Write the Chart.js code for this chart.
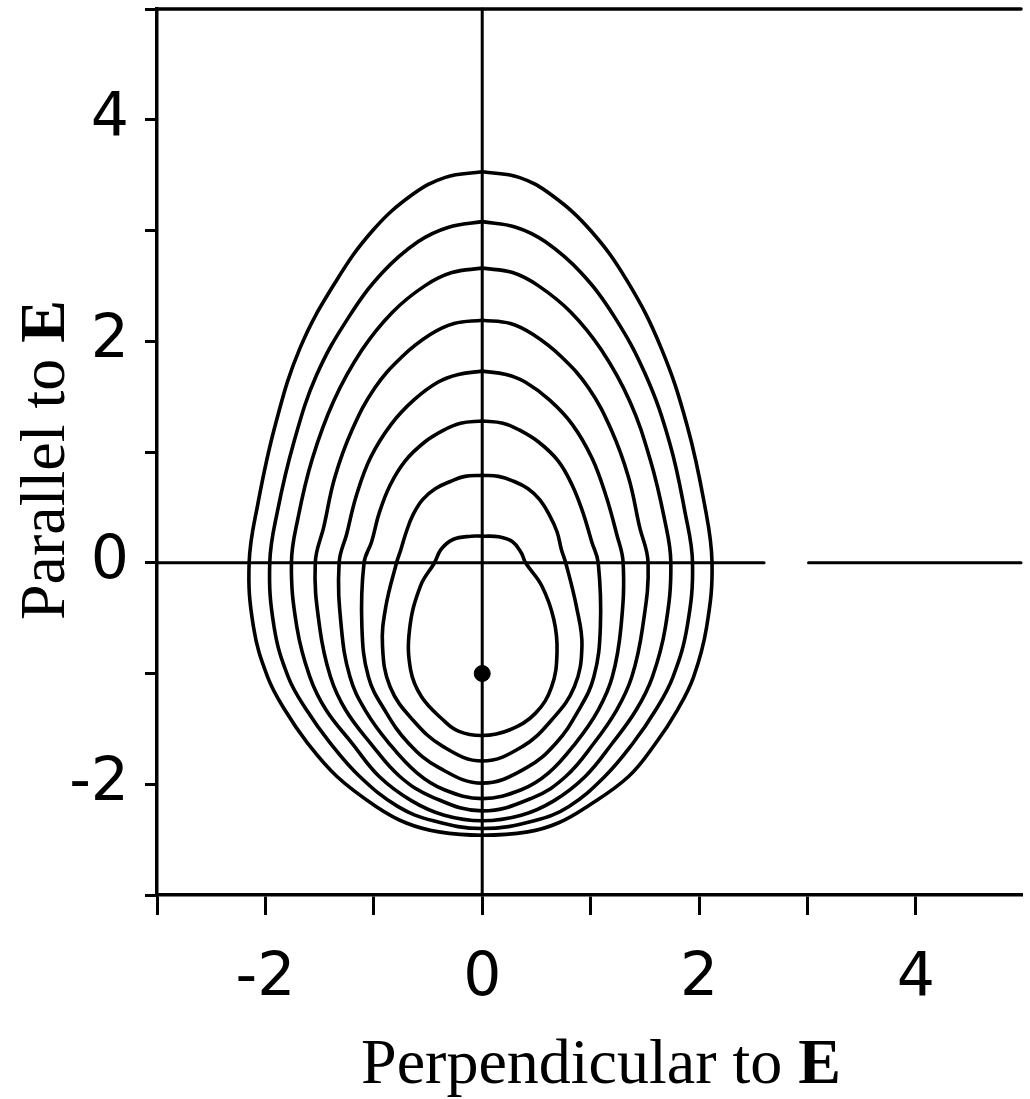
<!DOCTYPE html>
<html>
<head>
<meta charset="utf-8">
<title>Contours parallel / perpendicular to E</title>
<script src="https://cdn.jsdelivr.net/npm/chart.js@4.4.1/dist/chart.umd.min.js"></script>
<style>
  html, body { margin: 0; padding: 0; background: #fff; }
  #wrap { width: 1030px; height: 1099px; }
</style>
</head>
<body>
<div id="wrap"><canvas id="c" width="1030" height="1099"></canvas></div>
<script>
// ── axes ──
var X_TICKS = [-3, -2, -1, 0, 1, 2, 3, 4];
var Y_TICKS = [-3, -2, -1, 0, 1, 2, 3, 4, 5];
var LABELED = [-2, 0, 2, 4];
var X_TITLE = "Perpendicular to ", X_TITLE_BOLD = "E";
var Y_TITLE = "Parallel to ", Y_TITLE_BOLD = "E";

// ── contours, outermost (C1) to innermost (C8) ──
// each one goes clockwise from its top point and closes on it again
var C1_X = [0, 0.34, 0.64, 1.00, 1.34, 1.65, 1.89, 2.05, 2.12, 2.07, 1.95, 1.80, 1.60, 1.35, 0.97, 0.70, 0.42, 0, -0.40, -0.70, -0.98, -1.34, -1.61, -1.82, -1.98, -2.11, -2.15, -2.07, -1.91, -1.68, -1.35, -1.01, -0.65, -0.34, 0];
var C1_Y = [3.53, 3.48, 3.32, 3.00, 2.54, 1.94, 1.24, 0.53, 0, -0.58, -1.03, -1.33, -1.63, -1.93, -2.20, -2.35, -2.43, -2.46, -2.43, -2.35, -2.20, -1.93, -1.63, -1.33, -1.03, -0.58, 0, 0.53, 1.24, 1.94, 2.54, 3.00, 3.32, 3.48, 3.53];

var C2_X = [0, 0.31, 0.58, 0.91, 1.22, 1.51, 1.73, 1.87, 1.94, 1.89, 1.76, 1.60, 1.39, 1.13, 0.80, 0.48, 0, -0.45, -0.78, -1.13, -1.40, -1.62, -1.79, -1.92, -1.96, -1.89, -1.74, -1.53, -1.23, -0.92, -0.59, -0.31, 0];
var C2_Y = [3.08, 3.03, 2.90, 2.62, 2.22, 1.69, 1.08, 0.46, 0, -0.58, -1.03, -1.33, -1.63, -1.93, -2.20, -2.33, -2.40, -2.33, -2.20, -1.93, -1.63, -1.33, -1.03, -0.58, 0, 0.46, 1.08, 1.69, 2.22, 2.62, 2.90, 3.03, 3.08];

var C3_X = [0, 0.28, 0.52, 0.82, 1.10, 1.36, 1.55, 1.68, 1.74, 1.69, 1.57, 1.42, 1.20, 0.95, 0.66, 0.36, 0, -0.35, -0.65, -0.95, -1.20, -1.44, -1.59, -1.71, -1.76, -1.70, -1.57, -1.37, -1.11, -0.83, -0.53, -0.28, 0];
var C3_Y = [2.66, 2.62, 2.50, 2.26, 1.92, 1.46, 0.93, 0.40, 0, -0.58, -1.03, -1.33, -1.63, -1.93, -2.15, -2.28, -2.33, -2.28, -2.15, -1.93, -1.63, -1.33, -1.03, -0.58, 0, 0.40, 0.93, 1.46, 1.92, 2.26, 2.50, 2.62, 2.66];

var C4_X = [0, 0.26, 0.47, 0.73, 0.98, 1.19, 1.35, 1.45, 1.53, 1.48, 1.38, 1.24, 1.03, 0.77, 0.47, 0, -0.45, -0.76, -1.03, -1.26, -1.40, -1.50, -1.54, -1.46, -1.36, -1.20, -0.99, -0.74, -0.48, -0.26, 0];
var C4_Y = [2.19, 2.16, 2.06, 1.86, 1.58, 1.20, 0.77, 0.33, 0, -0.58, -1.03, -1.33, -1.63, -1.93, -2.12, -2.24, -2.12, -1.93, -1.63, -1.33, -1.03, -0.58, 0, 0.33, 0.77, 1.20, 1.58, 1.86, 2.06, 2.16, 2.19];

var C5_X = [0, 0.22, 0.40, 0.62, 0.83, 1.01, 1.14, 1.24, 1.30, 1.28, 1.20, 1.07, 0.86, 0.61, 0.36, 0, -0.35, -0.60, -0.86, -1.08, -1.22, -1.30, -1.32, -1.25, -1.16, -1.03, -0.84, -0.63, -0.41, -0.22, 0];
var C5_Y = [1.73, 1.70, 1.63, 1.47, 1.25, 0.95, 0.61, 0.26, 0, -0.58, -1.03, -1.33, -1.63, -1.90, -2.05, -2.13, -2.05, -1.90, -1.63, -1.33, -1.03, -0.58, 0, 0.26, 0.61, 0.95, 1.25, 1.47, 1.63, 1.70, 1.73];

var C6_X = [0, 0.19, 0.34, 0.52, 0.70, 0.83, 0.93, 1.01, 1.07, 1.09, 1.03, 0.89, 0.68, 0.41, 0, -0.40, -0.68, -0.90, -1.05, -1.11, -1.09, -1.02, -0.95, -0.85, -0.71, -0.53, -0.35, -0.20, 0];
var C6_Y = [1.28, 1.26, 1.20, 1.09, 0.92, 0.70, 0.45, 0.19, 0, -0.58, -1.03, -1.33, -1.63, -1.85, -1.99, -1.85, -1.63, -1.33, -1.03, -0.58, 0, 0.19, 0.45, 0.70, 0.92, 1.09, 1.20, 1.26, 1.28];

var C7_X = [0, 0.15, 0.28, 0.42, 0.53, 0.62, 0.69, 0.73, 0.77, 0.87, 0.92, 0.85, 0.64, 0.37, 0, -0.36, -0.64, -0.85, -0.92, -0.89, -0.79, -0.75, -0.70, -0.64, -0.55, -0.43, -0.28, -0.16, 0];
var C7_Y = [0.79, 0.78, 0.74, 0.67, 0.57, 0.43, 0.28, 0.12, 0, -0.40, -0.75, -1.12, -1.42, -1.66, -1.79, -1.66, -1.42, -1.12, -0.75, -0.40, 0, 0.12, 0.28, 0.43, 0.57, 0.67, 0.74, 0.78, 0.79];

var C8_X = [0, 0.15, 0.28, 0.36, 0.40, 0.55, 0.66, 0.69, 0.64, 0.49, 0.25, 0, -0.22, -0.36, -0.56, -0.66, -0.67, -0.57, -0.44, -0.38, -0.27, -0.10, 0];
var C8_Y = [0.24, 0.235, 0.19, 0.09, 0, -0.21, -0.51, -0.81, -1.12, -1.36, -1.51, -1.56, -1.52, -1.42, -1.21, -0.97, -0.60, -0.21, 0, 0.12, 0.21, 0.24, 0.24];

// the centre point
var CENTRE_X = [0];
var CENTRE_Y = [-1];

// zero lines + top frame (the y=0 line has a gap in the scan near x=3)
var ZERO_H1_X = [-3, 2.60], ZERO_H1_Y = [0, 0];
var ZERO_H2_X = [3.01, 4.97], ZERO_H2_Y = [0, 0];
var ZERO_V_X = [0, 0], ZERO_V_Y = [-3, 5];
var TOP_X = [-3, 4.97], TOP_Y = [5, 5];

function pts(xs, ys) {
  return xs.map(function (x, i) { return { x: x, y: ys[i] }; });
}

function lineSet(xs, ys, w, tension) {
  return {
    data: pts(xs, ys),
    showLine: true,
    borderColor: "#000",
    borderWidth: w,
    borderCapStyle: "round",
    borderJoinStyle: "round",
    pointRadius: 0,
    tension: tension,
    fill: false,
    clip: false
  };
}

/* ── mixed regular / bold axis titles ── */
function drawMixed(ctx, plain, bold, cx, y) {
  var fPlain = "64px 'Liberation Serif'";
  var fBold = "bold 64px 'Liberation Serif'";
  ctx.font = fPlain;
  var w1 = ctx.measureText(plain).width;
  ctx.font = fBold;
  var w2 = ctx.measureText(bold).width;
  var x = cx - (w1 + w2) / 2;
  ctx.textAlign = "left";
  ctx.font = fPlain;
  ctx.fillText(plain, x, y);
  ctx.font = fBold;
  ctx.fillText(bold, x + w1, y);
}

var axisTitles = {
  id: "axisTitles",
  afterDraw: function (chart) {
    var ctx = chart.ctx;
    ctx.save();
    ctx.fillStyle = "#000";
    ctx.textBaseline = "alphabetic";
    drawMixed(ctx, X_TITLE, X_TITLE_BOLD, 601, 1083);
    ctx.translate(64, 460);
    ctx.rotate(-Math.PI / 2);
    drawMixed(ctx, Y_TITLE, Y_TITLE_BOLD, 0, 0);
    ctx.restore();
  }
};

var tickFont = { family: "'DejaVu Sans'", size: 60 };
function tickLabel(v) {
  return LABELED.indexOf(v) >= 0 ? String(v) : "";
}

// no label padding: the frame sits right at the top / right edges
function noPad(s) {
  s.paddingTop = 0; s.paddingBottom = 0;
  s.paddingLeft = 0; s.paddingRight = 0;
}

var datasets = [
  lineSet(ZERO_H1_X, ZERO_H1_Y, 3, 0),
  lineSet(ZERO_H2_X, ZERO_H2_Y, 3, 0),
  lineSet(ZERO_V_X, ZERO_V_Y, 3, 0),
  lineSet(TOP_X, TOP_Y, 3.5, 0),
  lineSet(C1_X, C1_Y, 3.6, 0.4),
  lineSet(C2_X, C2_Y, 3.6, 0.4),
  lineSet(C3_X, C3_Y, 3.6, 0.4),
  lineSet(C4_X, C4_Y, 3.6, 0.4),
  lineSet(C5_X, C5_Y, 3.6, 0.4),
  lineSet(C6_X, C6_Y, 3.6, 0.4),
  lineSet(C7_X, C7_Y, 3.6, 0.4),
  lineSet(C8_X, C8_Y, 3.6, 0.4),
  {
    data: pts(CENTRE_X, CENTRE_Y),
    showLine: false,
    pointRadius: 8,
    pointBackgroundColor: "#000",
    pointBorderColor: "#000",
    clip: false
  }
];

new Chart(document.getElementById("c"), {
  type: "scatter",
  data: { datasets: datasets },
  options: {
    responsive: false,
    animation: false,
    devicePixelRatio: 1,
    layout: { padding: { top: 9, right: 0, left: 0, bottom: 0 } },
    plugins: { legend: { display: false }, tooltip: { enabled: false } },
    scales: {
      x: {
        type: "linear",
        min: -3,
        max: 4.97,
        afterBuildTicks: function (s) { s.ticks = X_TICKS.map(function (v) { return { value: v }; }); },
        afterFit: function (s) { s.height = 204; noPad(s); },
        grid: { drawOnChartArea: false, drawTicks: true, tickLength: 20, color: "#000", lineWidth: 3 },
        border: { display: true, color: "#000", width: 3.5 },
        ticks: { font: tickFont, color: "#000", padding: 28, maxRotation: 0, autoSkip: false, callback: tickLabel }
      },
      y: {
        type: "linear",
        min: -3,
        max: 5,
        afterBuildTicks: function (s) { s.ticks = Y_TICKS.map(function (v) { return { value: v }; }); },
        afterFit: function (s) { s.width = 157; noPad(s); },
        grid: { drawOnChartArea: false, drawTicks: true, tickLength: 12, color: "#000", lineWidth: 3 },
        border: { display: true, color: "#000", width: 3.5 },
        ticks: { font: tickFont, color: "#000", padding: 16, autoSkip: false, callback: tickLabel }
      }
    }
  },
  plugins: [axisTitles]
});
</script>
</body>
</html>
